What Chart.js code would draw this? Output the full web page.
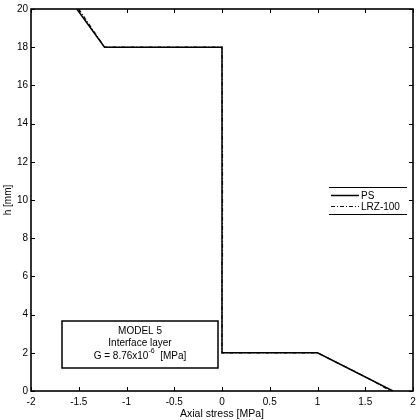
<!DOCTYPE html>
<html><head><meta charset="utf-8">
<script src="https://cdn.jsdelivr.net/npm/chart.js@4.4.1/dist/chart.umd.min.js"></script>
<style>html,body{margin:0;padding:0;background:#fff}#wrap{width:420px;height:420px}</style>
</head><body><div id="wrap"><canvas id="c" width="420" height="420"></canvas></div>
<script>
const seriesNames = ["PS", "LRZ-100"];
const psStress = [-1.52, -1.23, 0, 0, 1.0, 1.79];
const psH      = [20, 18, 18, 2, 2, 0];
const lrzStress = [-1.50, -1.23, 0, 0.005, 0.005, 0, 0, 1.0, 1.2, 1.4, 1.6, 1.76];
const lrzH      = [20, 18, 18, 12.3, 6.8, 6.8, 2, 2, 1.5, 1.0, 0.48, 0.0];
const xTicks = [-2, -1.5, -1, -0.5, 0, 0.5, 1, 1.5, 2];
const yTicks = [0, 2, 4, 6, 8, 10, 12, 14, 16, 18, 20];
const boxLines = ["MODEL 5", "Interface layer"];

const FONT = "'Liberation Sans', Arial, sans-serif";
const toPts = (xs, ys) => xs.map((x, i) => ({x: x, y: ys[i]}));

const frame = {
  id: 'frame',
  afterDraw(chart) {
    const {ctx, chartArea: a, scales} = chart;
    ctx.save();
    ctx.strokeStyle = '#000';
    ctx.lineWidth = 1.6;
    ctx.strokeRect(a.left, a.top, a.right - a.left, a.bottom - a.top);
    ctx.lineWidth = 1;
    const L = 4;
    ctx.beginPath();
    xTicks.forEach(v => {
      const p = Math.round(scales.x.getPixelForValue(v)) + 0.5;
      ctx.moveTo(p, a.bottom); ctx.lineTo(p, a.bottom - L);
      ctx.moveTo(p, a.top); ctx.lineTo(p, a.top + L);
    });
    yTicks.forEach(v => {
      const p = Math.round(scales.y.getPixelForValue(v)) + 0.5;
      ctx.moveTo(a.left, p); ctx.lineTo(a.left + L, p);
      ctx.moveTo(a.right, p); ctx.lineTo(a.right - L, p);
    });
    ctx.stroke();

    // annotation box
    ctx.fillStyle = '#fff';
    ctx.fillRect(62, 321, 156, 47);
    ctx.lineWidth = 1.5;
    ctx.strokeRect(62, 321, 156, 47);
    ctx.fillStyle = '#000';
    ctx.font = '10px ' + FONT;
    ctx.textAlign = 'center';
    ctx.textBaseline = 'middle';
    ctx.fillText(boxLines[0], 140, 331);
    ctx.fillText(boxLines[1], 140, 343);
    const t1 = 'G = 8.76x10', sup = '-6', t2 = '  [MPa]';
    ctx.font = '10px ' + FONT;
    const w1 = ctx.measureText(t1).width;
    const w2 = ctx.measureText(t2).width;
    ctx.font = '7px ' + FONT;
    const ws = ctx.measureText(sup).width;
    let x0 = 140 - (w1 + ws + w2) / 2;
    ctx.textAlign = 'left';
    ctx.font = '10px ' + FONT;
    ctx.fillText(t1, x0, 356);
    ctx.font = '7px ' + FONT;
    ctx.fillText(sup, x0 + w1, 351);
    ctx.font = '10px ' + FONT;
    ctx.fillText(t2, x0 + w1 + ws, 356);

    // legend
    ctx.lineWidth = 1;
    ctx.strokeStyle = '#000';
    ctx.beginPath();
    ctx.moveTo(329, 187.5); ctx.lineTo(407, 187.5);
    ctx.moveTo(329, 214.5); ctx.lineTo(407, 214.5);
    ctx.stroke();
    chart.data.datasets.forEach((ds, i) => {
      const y = 195.5 + i * 11;
      ctx.strokeStyle = ds.borderColor;
      ctx.lineWidth = ds.borderWidth;
      ctx.setLineDash(ds.borderDash || []);
      ctx.beginPath(); ctx.moveTo(331, y); ctx.lineTo(359, y); ctx.stroke();
      ctx.setLineDash([]);
      ctx.fillStyle = '#000';
      ctx.font = '10px ' + FONT;
      ctx.textAlign = 'left';
      ctx.fillText(ds.label, 361, y + 0.5);
    });
    ctx.restore();
  }
};

new Chart(document.getElementById('c'), {
  type: 'scatter',
  data: {
    datasets: [
      {label: seriesNames[0], data: toPts(psStress, psH), showLine: true, borderColor: '#000', borderWidth: 1.5, pointRadius: 0, fill: false, tension: 0},
      {label: seriesNames[1], data: toPts(lrzStress, lrzH), showLine: true, borderColor: '#111', borderWidth: 1.2, borderDash: [4, 2, 1, 2], pointRadius: 0, fill: false, tension: 0}
    ]
  },
  plugins: [frame],
  options: {
    responsive: false,
    animation: false,
    layout: {padding: {left: 2, right: 7, top: 9, bottom: 0}},
    plugins: {legend: {display: false}, tooltip: {enabled: false}},
    scales: {
      x: {
        type: 'linear', min: -2, max: 2,
        afterBuildTicks: s => { s.ticks = xTicks.map(v => ({value: v})); },
        afterFit: s => { s.height = 29; s.paddingLeft = 0; s.paddingRight = 0; },
        grid: {display: false, drawTicks: false},
        border: {display: false},
        ticks: {color: '#000', font: {family: FONT, size: 10}, padding: 5, maxRotation: 0, autoSkip: false,
                callback: v => String(v)},
        title: {display: true, text: 'Axial stress [MPa]', color: '#000', font: {family: FONT, size: 10.5}, padding: {top: 0, bottom: 0}}
      },
      y: {
        type: 'linear', min: 0, max: 20,
        afterBuildTicks: s => { s.ticks = yTicks.map(v => ({value: v})); },
        afterFit: s => { s.width = 29; s.paddingTop = 0; s.paddingBottom = 0; },
        grid: {display: false, drawTicks: false},
        border: {display: false},
        ticks: {color: '#000', font: {family: FONT, size: 10}, padding: 3, autoSkip: false,
                callback: v => String(v)},
        title: {display: true, text: 'h [mm]', color: '#000', font: {family: FONT, size: 10}, padding: {top: 0, bottom: 0}}
      }
    }
  }
});
</script></body></html>
